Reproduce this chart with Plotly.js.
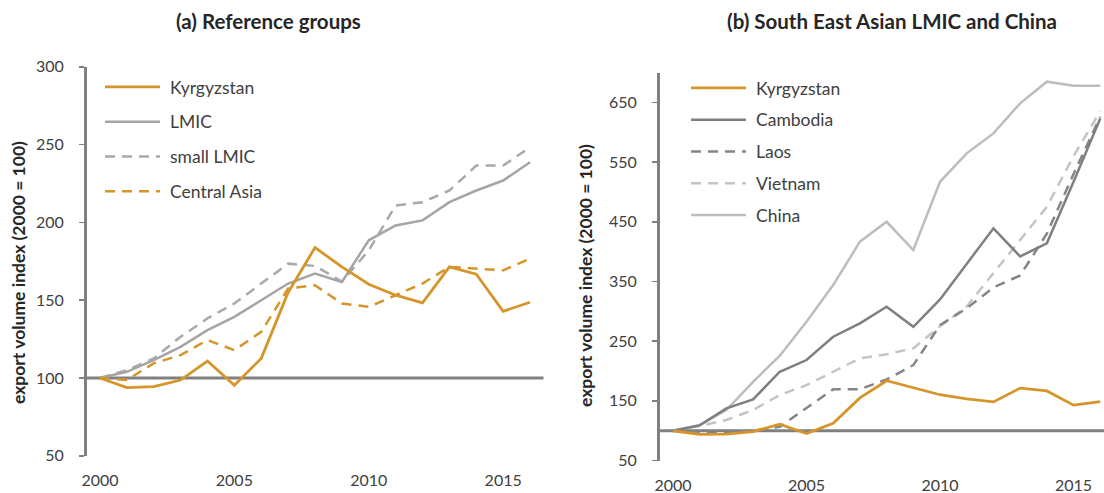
<!DOCTYPE html>
<html>
<head>
<meta charset="utf-8">
<script src="https://cdn.plot.ly/plotly-3.0.1.min.js"></script>
<style>html,body{margin:0;padding:0;background:#fff;overflow:hidden}</style>
</head>
<body>
<div id="chart" style="width:1104px;height:493px"></div>
<script>
// ---------- data ----------
const years = [2000,2001,2002,2003,2004,2005,2006,2007,2008,2009,2010,2011,2012,2013,2014,2015,2016];

// panel (a)
const kyrgyzstan  = [100, 93.8, 94.4, 98.7, 110.9, 95.3, 112.6, 155, 183.8, 171.4, 160.3, 153.2, 148.3, 171.4, 166.7, 142.9, 148.7];
const lmic        = [100, 104, 111.5, 120, 130.8, 139.3, 150, 160.7, 167.1, 161.7, 188.5, 198, 201.3, 213, 220.5, 226.9, 238.7];
const smallLmic   = [100, 105, 112.6, 126.5, 138.3, 147.9, 160.7, 173.5, 172, 162, 182, 210.9, 213, 220.5, 236.5, 236.5, 248.3];
const centralAsia = [100, 98.7, 109.4, 114.7, 124.4, 117.9, 129.7, 157.5, 159.6, 147.9, 145.7, 153.2, 160.7, 171.4, 170.3, 169.2, 176.7];

// panel (b)
const cambodia = [100, 109, 137.5, 152.5, 198.8, 218.4, 257.5, 279.9, 307.7, 274, 320, 380, 439, 392, 414, 517, 623];
const laos     = [100, 97, 96, 100, 106.7, 137.5, 169.3, 169.3, 186, 210, 277, 305, 340, 360, 430, 530, 626];
const vietnam  = [100, 108, 118, 134.7, 159.8, 176.5, 198.8, 221.3, 228, 238, 275, 308, 364, 419, 475, 560, 635];
const china    = [100, 109.5, 134.7, 182, 225.6, 282.6, 344, 416.6, 450, 402.7, 517, 564.6, 598, 648.4, 684.6, 678, 678];

const baseValue = 100;
const xTickVals = [2000, 2005, 2010, 2015];
const xTickText = ['2000', '2005', '2010', '2015'];
const leftYTicks  = [50, 100, 150, 200, 250, 300];
const rightYTicks = [50, 150, 250, 350, 450, 550, 650];

const titleA = '(a) Reference groups';
const titleB = '(b) South East Asian LMIC and China';
const yTitle = 'export volume index (2000 = 100)';

// ---------- styles ----------
const ORANGE = '#D6952A';
const AXIS = '#808080';
const TXT = '#404040';
const FONT = 'Lato, "Open Sans", sans-serif';

function tr(name, y, xa, ya, leg, color, width, dash, rank) {
  return {
    type: 'scatter', mode: 'lines', name: name, x: years, y: y,
    xaxis: xa, yaxis: ya, legend: leg, legendgroup: leg + name, legendrank: rank,
    line: {color: color, width: width, dash: dash || 'solid'},
    hoverinfo: 'skip'
  };
}

const data = [
  tr('small LMIC', smallLmic, 'x', 'y', 'legend', '#A9A9A9', 2.5, '10px,7px', 3),
  tr('LMIC', lmic, 'x', 'y', 'legend', '#A5A5A5', 2.5, 'solid', 2),
  tr('Central Asia', centralAsia, 'x', 'y', 'legend', ORANGE, 2.5, '10px,7px', 4),
  tr('Kyrgyzstan', kyrgyzstan, 'x', 'y', 'legend', ORANGE, 2.8, 'solid', 1),

  tr('China', china, 'x2', 'y2', 'legend2', '#BDBDBD', 2.5, 'solid', 5),
  tr('Vietnam', vietnam, 'x2', 'y2', 'legend2', '#C4C4C4', 2.5, '10px,7px', 4),
  tr('Laos', laos, 'x2', 'y2', 'legend2', '#858585', 2.5, '10px,7px', 3),
  tr('Cambodia', cambodia, 'x2', 'y2', 'legend2', '#7F7F7F', 2.5, 'solid', 2),
  tr('Kyrgyzstan', kyrgyzstan, 'x2', 'y2', 'legend2', ORANGE, 2.8, 'solid', 1)
];

const W = 1104, H = 493;
const px = v => v / W;
const py = v => 1 - v / H;

function xAxis(domain, range) {
  return {
    domain: domain, range: range, tickmode: 'array', tickvals: xTickVals, ticktext: xTickText,
    ticks: '', showline: false, showgrid: false, zeroline: false,
    ticklabelstandoff: 13, tickfont: {size: 16, color: TXT, family: FONT}, fixedrange: true
  };
}
function yAxis(domain, range, ticks, anchor) {
  return {
    domain: domain, range: range, tickmode: 'array', tickvals: ticks, anchor: anchor,
    showline: true, linecolor: AXIS, linewidth: 2.5,
    ticks: 'outside', ticklen: 5, tickwidth: 1.5, tickcolor: AXIS,
    showgrid: false, zeroline: false, ticklabelstandoff: 12,
    tickfont: {size: 16, color: TXT, family: FONT}, fixedrange: true
  };
}
function legendCfg(x, y, gap) {
  return {
    x: x, xanchor: 'left', y: y, yanchor: 'top', orientation: 'v',
    traceorder: 'grouped', tracegroupgap: gap, itemwidth: 60,
    bgcolor: 'rgba(0,0,0,0)', borderwidth: 0,
    font: {size: 17.5, color: TXT, family: FONT}
  };
}

const layout = {
  width: W, height: H,
  margin: {l: 0, r: 0, t: 0, b: 0},
  paper_bgcolor: '#ffffff', plot_bgcolor: 'rgba(0,0,0,0)',
  font: {family: FONT, color: TXT, size: 16},
  showlegend: true,
  xaxis: Object.assign(xAxis([px(86.5), px(543.5)], [1999.5, 2016.5]), {anchor: 'y'}),
  yaxis: yAxis([1 - 455.8 / H, 1 - 66.8 / H], [50, 300], leftYTicks, 'x'),
  xaxis2: Object.assign(xAxis([px(659.6), 1], [1999.5, 2016.14]), {anchor: 'y2'}),
  yaxis2: yAxis([1 - 460.6 / H, 1 - 72.5 / H], [50, 700], rightYTicks, 'x2'),
  legend: legendCfg(px(100), py(69), 9),
  legend2: legendCfg(px(686), py(70), 6),
  shapes: [
    {type: 'line', xref: 'x domain', yref: 'y', x0: 0, x1: 1, y0: baseValue, y1: baseValue,
     line: {color: AXIS, width: 3}, layer: 'below'},
    {type: 'line', xref: 'x2 domain', yref: 'y2', x0: 0, x1: 1, y0: baseValue, y1: baseValue,
     line: {color: AXIS, width: 3}, layer: 'below'}
  ],
  annotations: [
    {text: titleA, xref: 'paper', yref: 'paper', x: px(268), y: py(21), xanchor: 'center', yanchor: 'middle',
     showarrow: false, font: {size: 20.5, weight: 'bold', color: '#262626', family: FONT}},
    {text: titleB, xref: 'paper', yref: 'paper', x: px(892), y: py(21), xanchor: 'center', yanchor: 'middle',
     showarrow: false, font: {size: 20.5, weight: 'bold', color: '#262626', family: FONT}},
    {text: yTitle, xref: 'paper', yref: 'paper', x: px(18), y: py(273), xanchor: 'center', yanchor: 'middle',
     textangle: -90, showarrow: false, font: {size: 17.5, weight: 'bold', color: '#262626', family: FONT}},
    {text: yTitle, xref: 'paper', yref: 'paper', x: px(585), y: py(276), xanchor: 'center', yanchor: 'middle',
     textangle: -90, showarrow: false, font: {size: 17.5, weight: 'bold', color: '#262626', family: FONT}}
  ]
};

Plotly.newPlot('chart', data, layout, {staticPlot: true, displayModeBar: false}).then(function () {
  // lengthen legend line samples to resemble the original legend keys
  document.querySelectorAll('.legendlines path').forEach(function (p) {
    p.setAttribute('d', 'M5,0h55');
  });
});
</script>
</body>
</html>
